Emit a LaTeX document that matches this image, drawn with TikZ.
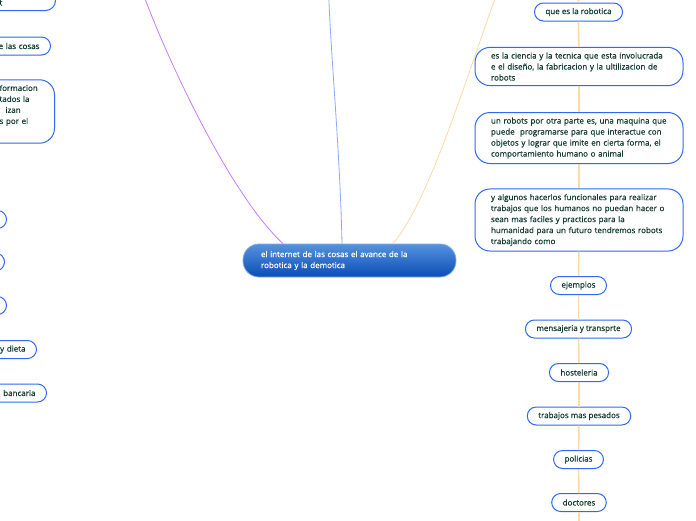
\documentclass[tikz,border=0pt]{standalone}
\usepackage{fontspec}
\setmainfont{Open Sans}[FakeBold=0.6]
\hyphenpenalty=10000
\definecolor{leafblue}{HTML}{3068F2}
\definecolor{leaftext}{HTML}{123B30}
\definecolor{maintop}{HTML}{5592DE}
\definecolor{mainbot}{HTML}{0A4DB5}
\definecolor{mainedge}{HTML}{7FAAEB}
\definecolor{linkorange}{HTML}{FDD9A8}
\definecolor{linkpurple}{HTML}{C77DFF}
\definecolor{linkblue}{HTML}{8DA8FF}
\begin{document}
\begin{tikzpicture}[x=1pt,y=-1pt,font=\fontsize{8}{11}\selectfont,
  leaf/.style={draw=leafblue,line width=1pt,rounded corners=9pt,minimum height=18pt,inner xsep=11pt,inner ysep=0pt,text=leaftext},
  note/.style={draw=leafblue,line width=1pt,rounded corners=15pt,inner xsep=16pt,inner ysep=5pt,text width=176pt,align=left,text=leaftext},
  main/.style={draw=mainedge,line width=0.8pt,rounded corners=16pt,top color=maintop,bottom color=mainbot,text=white,inner xsep=18pt,text width=177pt,align=left,minimum height=33pt}]
\useasboundingbox (0,0) rectangle (696,520);
\clip (0,0) rectangle (696,520);

\node[main] (A) at (349.5,260.5) {el internet de las cosas el avance de la\\robotica y la demotica};

\node[leaf] (B) at (578.5,12) {que es la robotica};
\node[note] (C) at (579,66.5) {es la ciencia y la tecnica que esta involucrada\\e el diseño, la fabricacion y la ultilizacion de\\robots};
\node[note] (D) at (579,138) {un robots por otra parte es, una maquina que\\puede~ programarse para que interactue con\\objetos y lograr que imite en cierta forma, el\\comportamiento humano o animal};
\node[note] (E) at (579,220) {y algunos hacerlos funcionales para realizar\\trabajos que los humanos no puedan hacer o\\sean mas faciles y practicos para la\\humanidad para un futuro tendremos robots\\trabajando como};
\node[leaf] (F) at (578.5,285.5) {ejemplos};
\node[leaf] (G) at (578.5,329) {mensajeria y transprte};
\node[leaf] (H) at (579,372.5) {hosteleria};
\node[leaf] (I) at (579,416) {trabajos mas pesados};
\node[leaf] (J) at (578.5,459.5) {policias};
\node[leaf] (K) at (579,502.5) {doctores};

\node[note,anchor=south east,text width=40pt,rounded corners=10pt] (L) at (56,11) {\strut\\t};
\node[leaf,anchor=east,text width=60pt,align=right] (M) at (51,46) {e las cosas};
\node[note,anchor=east,text width=39pt] (N) at (55,111.5) {formacion\\tados la\\\hspace*{6pt}izan\\s por el\\\strut};
\node[leaf,anchor=east,minimum width=60pt] (O) at (7,219.5) {};
\node[leaf,anchor=east,minimum width=60pt] (P) at (5,262) {};
\node[leaf,anchor=east,minimum width=60pt] (Q) at (7,305.5) {};
\node[leaf,anchor=east,text width=50pt,align=right] (R) at (37,349.5) {y dieta};
\node[leaf,anchor=east,text width=60pt,align=right] (S) at (47,393) {bancaria};

\coordinate (T) at (579,-20);
\coordinate (U) at (579,540);
\coordinate (V) at (141,-12);
\coordinate (W) at (328.5,-10);
\coordinate (X) at (500,-15);

\draw[linkorange,line width=1.6pt] (T) -- (B);
\draw[linkorange,line width=1.6pt] (B) -- (C);
\draw[linkorange,line width=1.6pt] (C) -- (D);
\draw[linkorange,line width=1.6pt] (D) -- (E);
\draw[linkorange,line width=1.6pt] (E) -- (F);
\draw[linkorange,line width=1.6pt] (F) -- (G);
\draw[linkorange,line width=1.6pt] (G) -- (H);
\draw[linkorange,line width=1.6pt] (H) -- (I);
\draw[linkorange,line width=1.6pt] (I) -- (J);
\draw[linkorange,line width=1.6pt] (J) -- (K);
\draw[linkorange,line width=1.6pt] (K) -- (U);

\draw[linkpurple,line width=0.8pt] ([xshift=-66.5pt]A.north) .. controls (230,195) and (165,55) .. (V);
\draw[linkblue,line width=0.8pt] ([xshift=-7.5pt]A.north) .. controls (340,150) and (331,60) .. (W);
\draw[linkorange,line width=0.8pt] ([xshift=43.5pt]A.north) .. controls (430,200) and (465,80) .. (X);

\end{tikzpicture}
\end{document}
